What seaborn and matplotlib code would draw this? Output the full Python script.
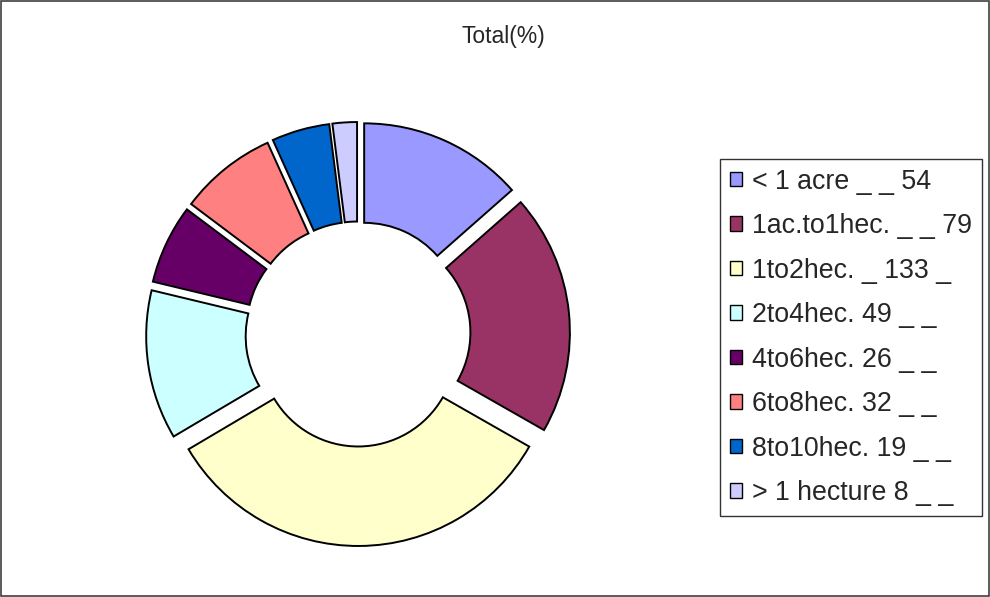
import matplotlib
matplotlib.use("Agg")
import matplotlib.pyplot as plt
from matplotlib.patches import Rectangle, Patch
import seaborn as sns

labels = ["< 1 acre _ _ 54", "1ac.to1hec. _ _ 79", "1to2hec. _ 133 _", "2to4hec. 49 _ _",
          "4to6hec. 26 _ _", "6to8hec. 32 _ _", "8to10hec. 19 _ _", "> 1 hecture 8 _ _"]
values = [54, 79, 133, 49, 26, 32, 19, 8]
colors = ["#9999FF", "#993366", "#FFFFCC", "#CCFFFF", "#660066", "#FF8080", "#0066CC", "#CCCCFF"]

sns.set_theme(style="white")
plt.rcParams["font.family"] = ["Liberation Sans", "DejaVu Sans"]

W, H = 990, 597
fig = plt.figure(figsize=(W / 100, H / 100), dpi=100)
fig.patch.set_facecolor("white")
fig.patches.append(Rectangle((0.001, 0.001), 0.998, 0.997, transform=fig.transFigure,
                             fill=False, edgecolor="#404040", linewidth=1.2))

# doughnut: centre (358, 334) px, outer radius 197 px
cx, cy, R = 358, 334, 197
half = 220
ax = fig.add_axes([(cx - half) / W, (H - cy - half) / H, 2 * half / W, 2 * half / H])
ax.pie(values, colors=colors, startangle=90, counterclock=False,
       explode=[0.076] * len(values), radius=1.0,
       wedgeprops=dict(width=0.505, edgecolor="black", linewidth=1.4))
lim = half / R
ax.set_xlim(-lim, lim)
ax.set_ylim(-lim, lim)
ax.set_aspect("equal")
ax.axis("off")

fig.text(503 / W, 1 - 37 / H, "Total(%)", ha="center", va="center", fontsize=16.5)

handles = [Patch(facecolor=c, edgecolor="black", linewidth=1.0) for c in colors]
leg = fig.legend(handles, labels, loc="upper left", bbox_to_anchor=(720 / W, 1 - 159 / H),
                 fontsize=19.3, frameon=True, fancybox=False, handlelength=0.45, handleheight=0.45,
                 handletextpad=0.4, labelspacing=0.69, borderpad=0.36, borderaxespad=0)
leg.get_frame().set_edgecolor("black")
leg.get_frame().set_linewidth(1.0)

fig.savefig("out.png", dpi=100)
